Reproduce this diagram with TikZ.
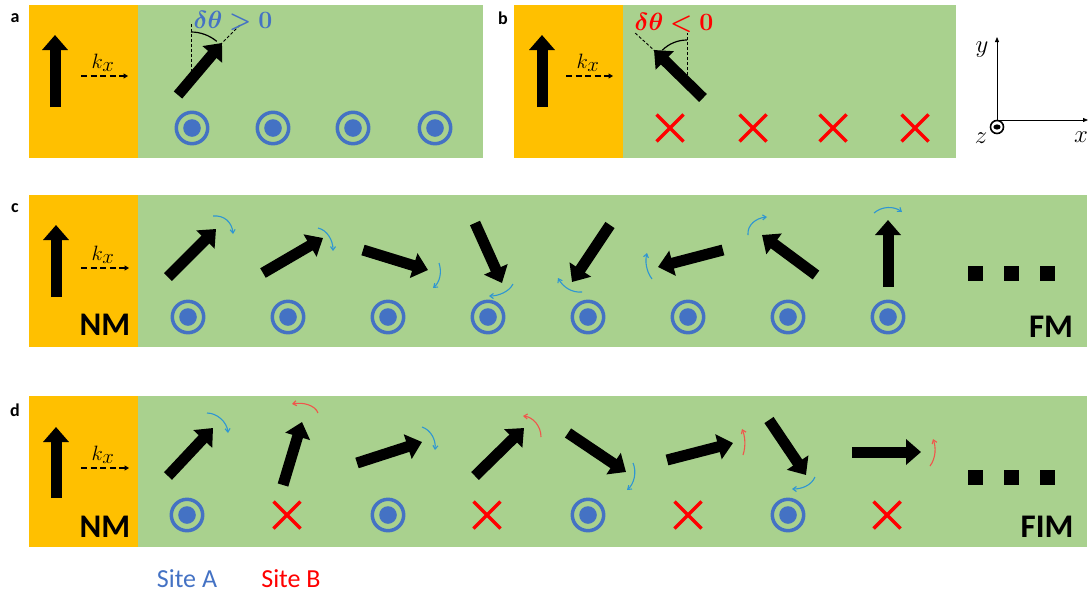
\documentclass[tikz,border=0pt]{standalone}
\usepackage[no-math]{fontspec}
\usepackage{bm}
\newfontfamily\calfont{Carlito}
\usetikzlibrary{arrows.meta}
\definecolor{nmorange}{HTML}{FFC000}
\definecolor{fmgreen}{HTML}{A9D18E}
\definecolor{siteblue}{HTML}{4472C4}
\definecolor{sitered}{HTML}{FF0000}
\definecolor{curlblue}{RGB}{47,150,210}
\definecolor{curlred}{RGB}{240,85,75}
\newcommand{\kxlabel}{$k_{\scriptstyle\mkern-1mu\raisebox{0pt}{$\textstyle x$}}$}
\tikzset{
  nmbox/.style={fill=nmorange, draw=none},
  fmbox/.style={fill=fmgreen, draw=none},
  spin/.style={line width=11pt, -{Triangle[length=15pt,width=25pt]}},
  kdash/.style={line width=1.3pt, dash pattern=on 6pt off 3.5pt, -{Triangle[length=4.5pt,width=5pt]}},
  ktext/.style={font=\fontsize{22}{26}\selectfont},
  dtext/.style={font=\fontsize{23}{27}\selectfont},
  curlB/.style={curlblue, line width=1.1pt, -{Straight Barb[length=3.5pt,width=5pt]}},
  curlR/.style={curlred, line width=1.1pt, -{Straight Barb[length=3.5pt,width=5pt]}},
  panellabel/.style={font=\calfont\bfseries\fontsize{18}{20}\selectfont},
  biglabel/.style={font=\calfont\bfseries\fontsize{33}{36}\selectfont},
  sitelabel/.style={font=\calfont\fontsize{26}{30}\selectfont},
  axlabel/.style={font=\fontsize{26}{28}\selectfont},
  dot/.style={fill=black, minimum size=15pt, inner sep=0pt, draw=none, rectangle},
  siteA/.pic={\draw[siteblue, line width=3.5pt] (0,0) circle[radius=15.7];
              \fill[siteblue] (0,0) circle[radius=8.8];},
  siteB/.pic={\draw[sitered, line width=3.5pt] (-13.5,-13.5) -- (13.5,13.5) (-13.5,13.5) -- (13.5,-13.5);},
}
\begin{document}
\begin{tikzpicture}[x=1pt,y=-1pt]
\useasboundingbox (0,0) rectangle (1091,595);

% ---------------- panel a ----------------
\fill[nmbox] (29,5) rectangle (138,158);
\fill[fmbox] (138,5) rectangle (483,158);
\node[panellabel] (la) at (15,18) {a};
\draw[spin] (55,107) -- (55,35);
\draw[kdash] (81,76) -- (128,76);
\node[ktext] (ka) at (103,63) {$k_{\textstyle x}$};
\draw[line width=0.9pt, dash pattern=on 3pt off 2pt] (191,72) -- (191,23);
\draw[line width=1.2pt] (191,32) arc[start angle=-90,end angle=-50,radius=40];
\draw[line width=0.9pt, dash pattern=on 3pt off 2pt] (220,45) -- (240,25);
\draw[spin] (178,95) -- (222,43);
\node[dtext, text=siteblue] (dta) at (233,21) {$\bm{\delta\theta > 0}$};
\foreach \x in {192,273,353,435} {\pic at (\x,128) {siteA};}

% ---------------- panel b ----------------
\fill[nmbox] (514,5) rectangle (623,158);
\fill[fmbox] (623,5) rectangle (956,158);
\node[panellabel] (lb) at (503,18) {b};
\draw[spin] (542,107) -- (542,35);
\draw[kdash] (566,76) -- (613,76);
\node[ktext] (kb) at (588,63) {$k_{\textstyle x}$};
\draw[line width=0.9pt, dash pattern=on 3pt off 2pt] (687,75) -- (687,33);
\draw[line width=1.2pt] (687,40) arc[start angle=-90,end angle=-135,radius=35];
\draw[line width=0.9pt, dash pattern=on 3pt off 2pt] (656,52) -- (634,32);
\draw[spin] (703,98) -- (654,50);
\node[dtext, text=sitered] (dtb) at (674,23) {$\bm{\delta\theta < 0}$};
\foreach \x in {670,753,833,915} {\pic at (\x,128) {siteB};}

% ---------------- axes ----------------
\coordinate (O) at (997,120);
\coordinate (Y) at (997,37);
\coordinate (X) at (1088,120);
\draw[line width=0.8pt, -{Triangle[length=5pt,width=4pt]}] (O) -- (Y);
\draw[line width=0.8pt, -{Triangle[length=5pt,width=4pt]}] (O) -- (X);
\draw[line width=1.6pt, fill=white] (997,127) circle[radius=6.5];
\fill (997,127) ellipse[x radius=3.6, y radius=2.6];
\node[axlabel] (ly) at (982,50) {$y$};
\node[axlabel] (lz) at (981,138) {$z$};
\node[axlabel] (lx) at (1081,137) {$x$};

% ---------------- panel c ----------------
\fill[nmbox] (29,195) rectangle (138,347);
\fill[fmbox] (138,195) rectangle (1087,347);
\node[panellabel] (lc) at (15,208) {c};
\draw[spin] (56,297) -- (56,225);
\draw[kdash] (81,268) -- (129,268);
\node[ktext] (kc) at (103,255) {$k_{\textstyle x}$};
\node[biglabel] (nmc) at (105,325) {NM};
\node[biglabel] (fmc) at (1051,327) {FM};
\foreach \x in {188,288,388,488,588,688,788,888} {\pic at (\x,317) {siteA};}
\draw[spin] (168,277) -- (216,229);
\draw[spin] (263,273) -- (323,238);
\draw[spin] (363,250) -- (428,270);
\draw[spin] (475,223) -- (502,283);
\draw[spin] (610,225) -- (572,282);
\draw[spin] (723,250) -- (658,267);
\draw[spin] (816,275) -- (762,235);
\draw[spin] (888,287) -- (888,220);
\draw[curlB] (213,216) .. controls (224,215) and (232,222) .. (233,234);
\draw[curlB] (318,228) .. controls (327,230) and (333,240) .. (333,251);
\draw[curlB] (439,263) .. controls (442,272) and (440,282) .. (433,288);
\draw[curlB] (513,284) .. controls (509,292) and (498,296) .. (489,296);
\draw[curlB] (582,292) .. controls (572,293) and (563,287) .. (558,278);
\draw[curlB] (652,279) .. controls (646,271) and (645,261) .. (647,253);
\draw[curlB] (748,235) .. controls (747,225) and (756,218) .. (767,217);
\draw[curlB] (874,213) .. controls (882,206) and (894,206) .. (902,212);
\node[dot] (c1) at (975,273) {};
\node[dot] (c2) at (1011,273) {};
\node[dot] (c3) at (1047,273) {};

% ---------------- panel d ----------------
\fill[nmbox] (29,396) rectangle (138,547);
\fill[fmbox] (138,396) rectangle (1087,547);
\node[panellabel] (ld) at (15,410) {d};
\draw[spin] (56,498) -- (56,427);
\draw[kdash] (81,468) -- (129,468);
\node[ktext] (kd) at (103,455) {$k_{\textstyle x}$};
\node[biglabel] (nmd) at (105,527) {NM};
\node[biglabel] (fimd) at (1047,527) {FIM};
\foreach \x in {187,388,588,788} {\pic at (\x,515) {siteA};}
\foreach \x in {287,487,688,887} {\pic at (\x,515) {siteB};}
\draw[spin] (168,476) -- (213,428);
\draw[spin] (283,485) -- (302,422);
\draw[spin] (357,463) -- (422,442);
\draw[spin] (475,476) -- (524,428);
\draw[spin] (568,433) -- (626,472);
\draw[spin] (667,460) -- (733,443);
\draw[spin] (769,420) -- (806,475);
\draw[spin] (852,452) -- (921,452);
\draw[curlB] (207,413) .. controls (217,413) and (227,422) .. (228,433);
\draw[curlR] (318,413) .. controls (315,405) and (303,402) .. (292,404);
\draw[curlB] (422,427) .. controls (431,430) and (436,440) .. (435,450);
\draw[curlR] (541,437) .. controls (541,426) and (533,417) .. (523,416);
\draw[curlB] (633,463) .. controls (637,472) and (634,484) .. (627,490);
\draw[curlR] (743,455) .. controls (746,446) and (745,436) .. (742,429);
\draw[curlB] (815,477) .. controls (811,486) and (801,489) .. (792,489);
\draw[curlR] (930,466) .. controls (936,458) and (936,447) .. (933,439);
\node[dot] (d1) at (975,477) {};
\node[dot] (d2) at (1011,477) {};
\node[dot] (d3) at (1047,477) {};

% ---------------- legend ----------------
\node[sitelabel, text=siteblue] (sa) at (187,579) {Site A};
\node[sitelabel, text=sitered] (sb) at (291,579) {Site B};
\end{tikzpicture}
\end{document}
